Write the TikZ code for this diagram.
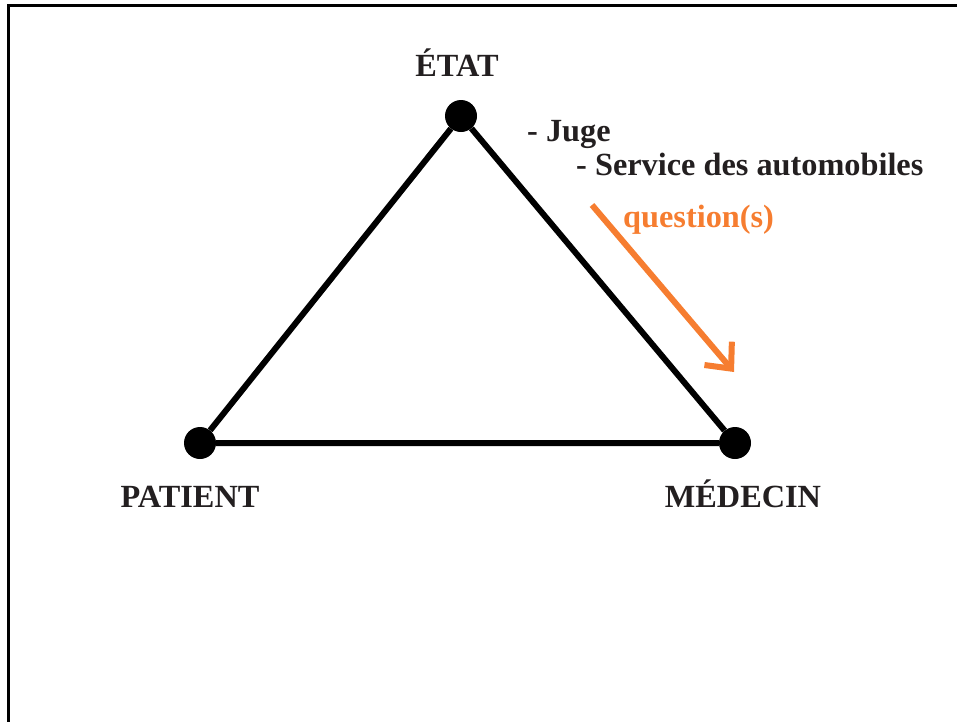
\documentclass[tikz,border=0pt]{standalone}
\usepackage{fontspec}
\setmainfont{Liberation Serif}
\usetikzlibrary{arrows.meta}
\definecolor{txt}{RGB}{35,31,32}
\definecolor{orng}{RGB}{246,125,48}
\tikzset{
  dot/.style={circle,fill=black,minimum size=32pt,inner sep=0pt},
  lbl/.style={inner sep=0pt,text=txt,font=\fontsize{32.3}{37}\selectfont\bfseries},
  side/.style={line width=6pt,black},
  qarrow/.style={line width=6pt,orng,-{Straight Barb[length=20pt,width=36pt,line width=6pt]}},
  frame/.style={line width=3pt,black}
}
\begin{document}
\begin{tikzpicture}[x=1pt,y=-1pt]
\useasboundingbox (0,0) rectangle (957,721);
\draw[frame] (8.5,730) -- (8.5,5.5) -- (970,5.5);
\node[dot] (e) at (461,116) {};
\node[dot] (p) at (200,443) {};
\node[dot] (m) at (735,443) {};
\draw[side] (e) -- (p) -- (m) -- (e);
\node[lbl,anchor=base] (te) at (457,76) {ÉTAT};
\node[lbl,anchor=base west] (tj) at (527,141) {- Juge};
\node[lbl,anchor=base west] (ts) at (576,175) {- Service des automobiles};
\node[lbl,anchor=base west,text=orng] (tq) at (623,227) {question(s)};
\node[lbl,anchor=base] (tp) at (190,507) {PATIENT};
\node[lbl,anchor=base] (tm) at (743,507) {MÉDECIN};
\coordinate (qs) at (592,205);
\coordinate (qe) at (734,372);
\draw[qarrow] (qs) -- (qe);
\end{tikzpicture}
\end{document}
